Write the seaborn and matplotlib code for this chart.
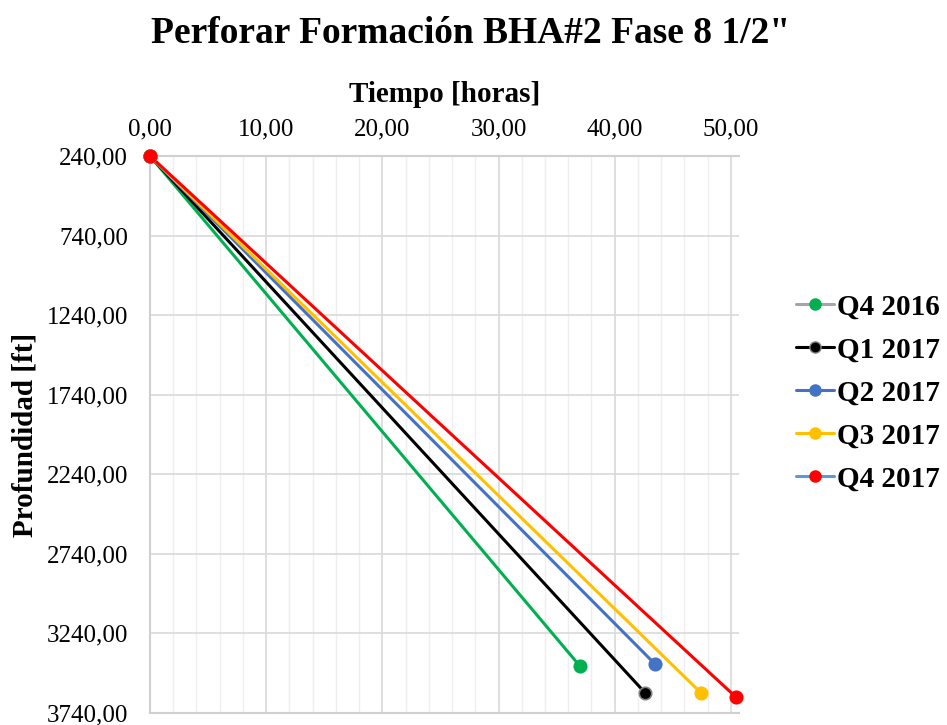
import matplotlib
matplotlib.use("Agg")
import matplotlib.pyplot as plt
from matplotlib.lines import Line2D
from matplotlib.ticker import MultipleLocator, FixedLocator, FuncFormatter
import seaborn as sns
import pandas as pd

# Drilling progress per quarter: start and end of the 8 1/2" section
series = ["Q4 2016", "Q1 2017", "Q2 2017", "Q3 2017", "Q4 2017"]
hours_start = [0.0, 0.0, 0.0, 0.0, 0.0]
hours_end = [37.0, 42.6, 43.5, 47.4, 50.4]
depth_start = [240.0, 240.0, 240.0, 240.0, 240.0]
depth_end = [3445.0, 3612.0, 3435.0, 3612.0, 3638.0]

line_colors = ["#00B050", "#000000", "#4472C4", "#FFC000", "#FF0000"]
legend_line_colors = ["#A5A5A5", "#000000", "#4472C4", "#FFC000", "#5B9BD5"]
marker_edges = ["#00B050", "#808080", "#4472C4", "#FFC000", "#FF0000"]

y_ticks = [240, 740, 1240, 1740, 2240, 2740, 3240, 3740]

rows = []
for name, h0, h1, d0, d1 in zip(series, hours_start, hours_end, depth_start, depth_end):
    rows.append({"serie": name, "horas": h0, "prof": d0})
    rows.append({"serie": name, "horas": h1, "prof": d1})
df = pd.DataFrame(rows)

sns.set_theme(style="white")
plt.rcParams["font.family"] = ["Liberation Serif", "DejaVu Serif"]
plt.rcParams["text.color"] = "#000000"
plt.rcParams["axes.labelcolor"] = "#000000"

fig = plt.figure(figsize=(9.47, 7.25), dpi=100)
ax = fig.add_axes([0.1584, 0.0166, 0.6220, 0.7682])

palette = dict(zip(series, line_colors))
sns.lineplot(data=df, x="horas", y="prof", hue="serie", palette=palette,
             sort=False, estimator=None, linewidth=2.2, legend=False, ax=ax, zorder=3)
for name, color, edge in zip(series, line_colors, marker_edges):
    sub = df[df["serie"] == name]
    sns.scatterplot(data=sub, x="horas", y="prof", color=color, edgecolor=edge,
                    linewidth=1.2, s=80, legend=False, ax=ax, zorder=4)
for coll in ax.collections:
    coll.set_clip_on(False)

ax.set_xlim(0, 50.7)
ax.set_ylim(3740, 240)
ax.xaxis.set_major_locator(MultipleLocator(10))
ax.xaxis.set_minor_locator(MultipleLocator(2))
ax.yaxis.set_major_locator(FixedLocator(y_ticks))
fmt = FuncFormatter(lambda v, p: f"{v:.2f}".replace(".", ","))
ax.xaxis.set_major_formatter(fmt)
ax.yaxis.set_major_formatter(fmt)

ax.xaxis.tick_top()
ax.xaxis.set_label_position("top")
ax.tick_params(axis="both", which="both", length=0, labelsize=18, colors="#000000")
ax.tick_params(axis="x", pad=11)
ax.tick_params(axis="y", pad=16)

ax.grid(which="major", axis="both", color="#D9D9D9", linewidth=1.2)
ax.grid(which="minor", axis="x", color="#EFEFEF", linewidth=1.0)
ax.set_axisbelow(True)
for side in ["top", "left", "bottom"]:
    ax.spines[side].set_visible(True)
    ax.spines[side].set_color("#D0D0D0")
    ax.spines[side].set_linewidth(1.5)
ax.spines["right"].set_visible(False)

ax.set_xlabel("Tiempo [horas]", fontsize=21, fontweight="bold", labelpad=12)
ax.set_ylabel("Profundidad [ft]", fontsize=21, fontweight="bold")
ax.yaxis.set_label_coords(-0.19, 0.5)

fig.suptitle('Perforar Formación BHA#2 Fase 8 1/2"', fontsize=27, fontweight="bold",
             x=0.497, y=0.978, color="#000000")

handles = [Line2D([0], [0], color=lc, linewidth=2.2, marker="o", markersize=8,
                  markerfacecolor=mc, markeredgecolor=me)
           for lc, mc, me in zip(legend_line_colors, line_colors, marker_edges)]
fig.legend(handles, series, loc="center left", bbox_to_anchor=(0.841, 0.458),
           frameon=False, handlelength=1.3, handletextpad=0.1, labelspacing=0.55,
           borderpad=0, borderaxespad=0,
           prop={"family": ["Liberation Serif"], "weight": "bold", "size": 21})

fig.savefig("out.png", dpi=100)
